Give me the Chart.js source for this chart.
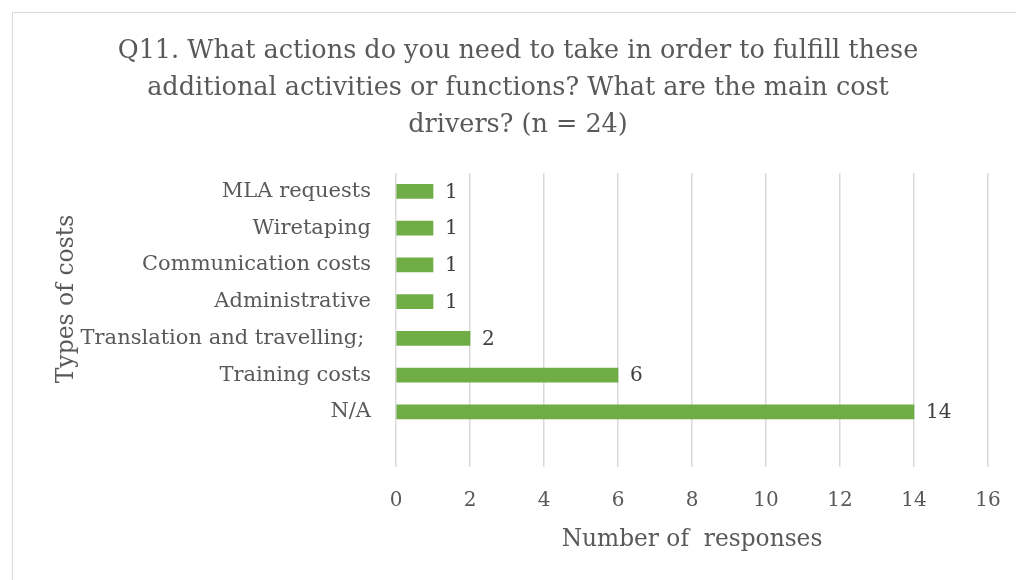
<!DOCTYPE html>
<html>
<head>
<meta charset="utf-8">
<script src="https://cdn.jsdelivr.net/npm/chart.js@4.4.1/dist/chart.umd.min.js"></script>
<style>
  html, body { margin: 0; padding: 0; background: #fff; }
  #wrap { position: relative; width: 1016px; height: 580px; overflow: hidden; }
  #frame { position: absolute; left: 12px; top: 12px; width: 1020px; height: 600px; border: 1px solid #d9d9d9; }
  canvas { position: absolute; left: 0; top: 0; }
</style>
</head>
<body>
<div id="wrap">
  <div id="frame"></div>
  <canvas id="costChart" width="1016" height="580"></canvas>
</div>
<script>
// Chart data
const categories = ['MLA requests', 'Wiretaping', 'Communication costs', 'Administrative',
    'Translation and travelling; ', 'Training costs', 'N/A', ''];
const responses = [1, 1, 1, 1, 2, 6, 14, null];
const xTicks = [0, 2, 4, 6, 8, 10, 12, 14, 16];

const titleLines = [
    'Q11. What actions do you need to take in order to fulfill these',
    'additional activities or functions? What are the main cost',
    'drivers? (n = 24)'
];

const FONT = "'DejaVu Serif', serif";
const GREY = '#595959';

// value labels at the end of each bar
const valueLabels = {
    id: 'valueLabels',
    afterDatasetsDraw(chart) {
        const ctx = chart.ctx;
        const meta = chart.getDatasetMeta(0);
        ctx.save();
        ctx.font = '20px ' + FONT;
        ctx.fillStyle = '#404040';
        ctx.textAlign = 'left';
        ctx.textBaseline = 'middle';
        meta.data.forEach((bar, i) => {
            const v = responses[i];
            if (v === null) return;
            ctx.fillText(String(v), bar.x + 12, bar.y + 1);
        });
        ctx.restore();
    }
};

// rotated y axis title, centred on the plot like the original
const yTitle = {
    id: 'yTitle',
    afterDraw(chart) {
        const ctx = chart.ctx;
        ctx.save();
        ctx.translate(67, 299);
        ctx.rotate(-Math.PI / 2);
        ctx.font = '23.5px ' + FONT;
        ctx.fillStyle = GREY;
        ctx.textAlign = 'center';
        ctx.textBaseline = 'middle';
        ctx.fillText('Types of costs', 0, 0);
        ctx.restore();
    }
};

const ctx = document.getElementById('costChart').getContext('2d');
new Chart(ctx, {
    type: 'bar',
    data: {
        labels: categories,
        datasets: [{
            data: responses,
            backgroundColor: '#70ad47',
            borderWidth: 0,
            barThickness: 14
        }]
    },
    options: {
        indexAxis: 'y',
        responsive: false,
        animation: false,
        layout: { padding: { left: 48, right: 28, top: 0, bottom: 26 } },
        scales: {
            x: {
                min: 0,
                max: 16,
                afterBuildTicks: (scale) => { scale.ticks = xTicks.map(v => ({ value: v })); },
                grid: { color: '#d9d9d9', lineWidth: 1.5, drawTicks: false },
                border: { display: false },
                ticks: { color: GREY, font: { family: FONT, size: 20 }, padding: 22 },
                title: {
                    display: true,
                    text: 'Number of  responses',
                    color: GREY,
                    font: { family: FONT, size: 23.3 },
                    padding: { top: 8, bottom: 0 }
                },
                afterFit: (scale) => {
                    scale.height = 87;
                    scale.paddingLeft = 0;
                    scale.paddingRight = 0;
                }
            },
            y: {
                grid: { display: false },
                border: { display: false },
                ticks: { color: GREY, font: { family: FONT, size: 21 }, padding: 17 },
                afterFit: (scale) => { scale.width = 348; }
            }
        },
        plugins: {
            legend: { display: false },
            tooltip: { enabled: false },
            title: {
                display: true,
                text: titleLines,
                color: GREY,
                font: { family: FONT, size: 25.5, weight: 'normal', lineHeight: 1.45 },
                padding: { top: 33, bottom: 29 }
            }
        }
    },
    plugins: [valueLabels, yTitle]
});
</script>
</body>
</html>
